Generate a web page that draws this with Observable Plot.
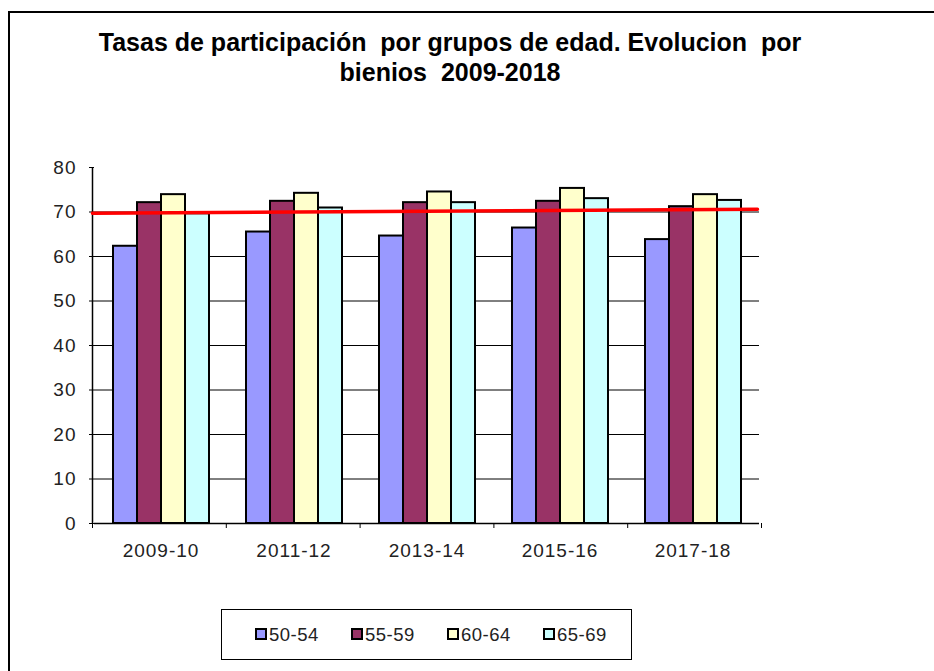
<!DOCTYPE html>
<html>
<head>
<meta charset="utf-8">
<script src="https://cdn.jsdelivr.net/npm/d3@7"></script>
<script src="https://cdn.jsdelivr.net/npm/@observablehq/plot@0.6"></script>
<style>
  html, body { margin: 0; padding: 0; background: #fff; }
  body { width: 934px; height: 671px; position: relative; overflow: hidden; font-family: "Liberation Sans", Arial, sans-serif; }
  #frame { position: absolute; left: 8px; top: 11px; width: 940px; height: 700px; border-left: 2px solid #000; border-top: 2px solid #000; }
  #title { position: absolute; left: 0; width: 900px; top: 27px; text-align: center; font-weight: bold; font-size: 25px; line-height: 30px; color: #000; }
  .layer { position: absolute; left: 0; top: 0; }
  #legend { position: absolute; left: 221px; top: 609px; width: 411px; height: 51px; border: 1px solid #000; box-sizing: border-box; }
  .item { position: absolute; top: 15px; font-size: 18.5px; letter-spacing: 0.5px; color: #222; line-height: 20px; }
  .sw { display: inline-block; width: 8px; height: 8px; border: 2px solid #000; margin-right: 2px; vertical-align: 1px; }
</style>
</head>
<body>
<div id="frame"></div>
<div id="title">Tasas de participación&nbsp; por grupos de edad. Evolucion&nbsp; por<br>bienios&nbsp; 2009-2018</div>
<div id="bars" class="layer"></div>
<div id="over" class="layer"></div>
<div id="legend"></div>
<script>
const categories = ["2009-10", "2011-12", "2013-14", "2015-16", "2017-18"];
const series = ["50-54", "55-59", "60-64", "65-69"];
const colors = ["#9999FF", "#993366", "#FFFFCC", "#CCFFFF"];
const v5054 = [62.3, 65.5, 64.6, 66.4, 63.8];
const v5559 = [72.1, 72.4, 72.1, 72.4, 71.2];
const v6064 = [73.9, 74.2, 74.5, 75.3, 73.9];
const v6569 = [69.6, 70.9, 72.1, 73.0, 72.6];
const yTicks = [0, 10, 20, 30, 40, 50, 60, 70, 80];
const gridTicks = [10, 20, 30, 40, 50, 60, 70];
const trendX = [0, 4.97];
const trendY = [69.7, 70.6];

const values = [v5054, v5559, v6064, v6569];
const data = [];
categories.forEach((c, i) => series.forEach((s, j) => data.push({cat: c, ser: s, val: values[j][i]})));
const trend = trendX.map((x, i) => ({x, y: trendY[i]}));
const boundaries = d3.range(categories.length + 1);

const W = 934, H = 671, ML = 92, MR = 173, MT = 167, MB = 148;
const font = "Liberation Sans, Arial, sans-serif";

const barsPlot = Plot.plot({
  width: W, height: H,
  marginLeft: ML, marginRight: MR, marginTop: MT, marginBottom: MB,
  style: {fontFamily: font, fontSize: "19px", letterSpacing: "1px", color: "#222", background: "transparent", overflow: "visible"},
  fx: {domain: categories, padding: 0, label: null},
  x: {domain: series, paddingInner: 0, paddingOuter: 0.75, axis: null},
  y: {domain: [0, 80], label: null},
  color: {domain: series, range: colors},
  marks: [
    Plot.ruleY(gridTicks, {stroke: "#000", strokeWidth: 1}),
    Plot.ruleY([0], {stroke: "#000", strokeWidth: 1.5}),
    Plot.barY(data, {fx: "cat", x: "ser", y: "val", fill: "ser", stroke: "#000", strokeWidth: 2, inset: 0}),
    Plot.axisY({ticks: yTicks, tickSize: 5, tickPadding: 13, label: null, fontSize: 19, stroke: "#000"}),
    Plot.axisFx({tickSize: 0, tickPadding: 20, label: null, fontSize: 19, anchor: "bottom"})
  ]
});
document.getElementById("bars").appendChild(barsPlot);

const overPlot = Plot.plot({
  width: W, height: H,
  marginLeft: ML, marginRight: MR, marginTop: MT, marginBottom: MB,
  style: {fontFamily: font, background: "transparent", overflow: "visible"},
  x: {domain: [0, categories.length]},
  y: {domain: [0, 80]},
  marks: [
    Plot.ruleX([0], {y1: 0, y2: 80, stroke: "#000", strokeWidth: 1.5}),
    Plot.axisX({ticks: boundaries, tickSize: 5, tickFormat: () => "", label: null, stroke: "#000"}),
    Plot.axisY({ticks: [], label: null}),
    Plot.line(trend, {x: "x", y: "y", stroke: "#FF0000", strokeWidth: 3.5})
  ]
});
document.getElementById("over").appendChild(overPlot);

const legend = document.getElementById("legend");
const lefts = [33, 129, 225, 321];
series.forEach((s, j) => {
  const d = document.createElement("div");
  d.className = "item";
  d.style.left = lefts[j] + "px";
  d.innerHTML = `<span class="sw" style="background:${colors[j]}"></span>${s}`;
  legend.appendChild(d);
});
</script>
</body>
</html>
